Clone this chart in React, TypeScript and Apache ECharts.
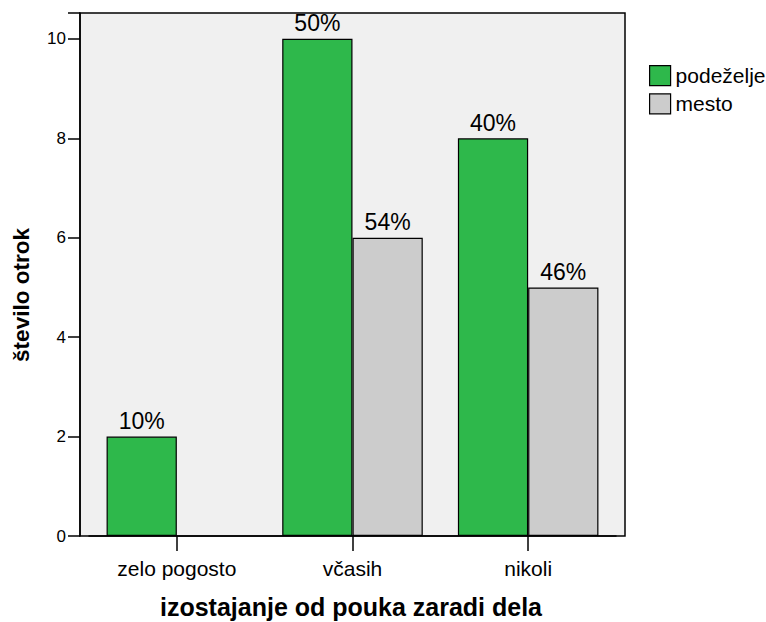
import React, { useEffect, useRef } from "react";
import * as echarts from "echarts";

const categories = ["zelo pogosto", "včasih", "nikoli"];
const seriesNames = ["podeželje", "mesto"];
const podezeljeCounts = [2, 10, 8];
const mestoCounts: (number | null)[] = [null, 6, 5];
const podezeljePct = [10, 50, 40];
const mestoPct: (number | null)[] = [null, 54, 46];
const yTicks = [0, 2, 4, 6, 8, 10];

const FONT = "Liberation Sans, Arial, sans-serif";

export default function App() {
  const ref = useRef<HTMLDivElement>(null);
  useEffect(() => {
    if (!ref.current) return;
    document.body.style.margin = "0";
    document.body.style.overflow = "hidden";
    const chart = echarts.init(ref.current, null, { renderer: "svg" });
    const yMax = 10.52;
    const top = 13;
    const bottom = 86;
    const mk = (vals: (number | null)[], pcts: (number | null)[], name: string, color: string) => ({
      type: "bar",
      name,
      xAxisIndex: 0,
      yAxisIndex: 1,
      data: vals.map((v, i) => ({ value: v, pct: pcts[i] })),
      barGap: "0%",
      barCategoryGap: "20%",
      itemStyle: { color, borderColor: "#000", borderWidth: 1.2 },
      label: {
        show: true,
        position: "top",
        distance: 4,
        fontFamily: FONT,
        fontSize: 23,
        color: "#000",
        formatter: (p: any) => (p.data.pct == null ? "" : p.data.pct + "%"),
      },
    });
    chart.setOption({
      animation: false,
      backgroundColor: "#fff",
      textStyle: { fontFamily: FONT },
      grid: [
        { left: 89, width: 527, top, bottom, show: false },
        {
          left: 80,
          right: 141,
          top,
          bottom,
          show: true,
          backgroundColor: "#f0f0f0",
          borderColor: "#000",
          borderWidth: 1.5,
          z: 0,
        },
      ],
      legend: {
        orient: "vertical",
        left: 644,
        top: 60,
        itemWidth: 21,
        itemHeight: 20,
        itemGap: 7,
        icon: "rect",
        data: seriesNames,
        textStyle: { fontFamily: FONT, fontSize: 21, color: "#000" },
        itemStyle: { borderColor: "#000", borderWidth: 1.2 },
      },
      xAxis: [
        {
          type: "category",
          gridIndex: 0,
          data: categories,
          axisLine: { show: true, lineStyle: { color: "#000", width: 1.5 } },
          axisTick: { show: true, alignWithLabel: true, length: 15, lineStyle: { color: "#000", width: 1.5 } },
          axisLabel: { fontFamily: FONT, fontSize: 21, color: "#000", margin: 22 },
          splitLine: { show: false },
        },
        { type: "value", gridIndex: 1, show: false },
      ],
      yAxis: [
        {
          type: "value",
          gridIndex: 1,
          min: 0,
          max: yMax,
          interval: 2,
          axisLine: { show: true, lineStyle: { color: "#000", width: 1.5 } },
          axisTick: { show: true, length: 12, lineStyle: { color: "#000", width: 1.5 } },
          axisLabel: {
            fontFamily: FONT,
            fontSize: 17,
            color: "#000",
            margin: 14,
            formatter: (v: number) => (yTicks.includes(v) ? String(v) : ""),
          },
          splitLine: { show: false },
        },
        { type: "value", gridIndex: 0, min: 0, max: yMax, show: false },
      ],
      graphic: [
        {
          type: "text",
          x: 351,
          y: 607,
          style: {
            text: "izostajanje od pouka zaradi dela",
            align: "center",
            verticalAlign: "middle",
            fontFamily: FONT,
            fontSize: 25,
            fontWeight: "bold",
            fill: "#000",
          },
        },
        {
          type: "text",
          x: 21,
          y: 295,
          rotation: Math.PI / 2,
          style: {
            text: "število otrok",
            align: "center",
            verticalAlign: "middle",
            fontFamily: FONT,
            fontSize: 22.5,
            fontWeight: "bold",
            fill: "#000",
          },
        },
      ],
      series: [
        mk(podezeljeCounts, podezeljePct, seriesNames[0], "#2eb84b"),
        mk(mestoCounts, mestoPct, seriesNames[1], "#cccccc"),
      ],
    });
    return () => chart.dispose();
  }, []);
  return <div ref={ref} style={{ position: "absolute", left: 0, top: 0, width: 766, height: 622 }} />;
}
